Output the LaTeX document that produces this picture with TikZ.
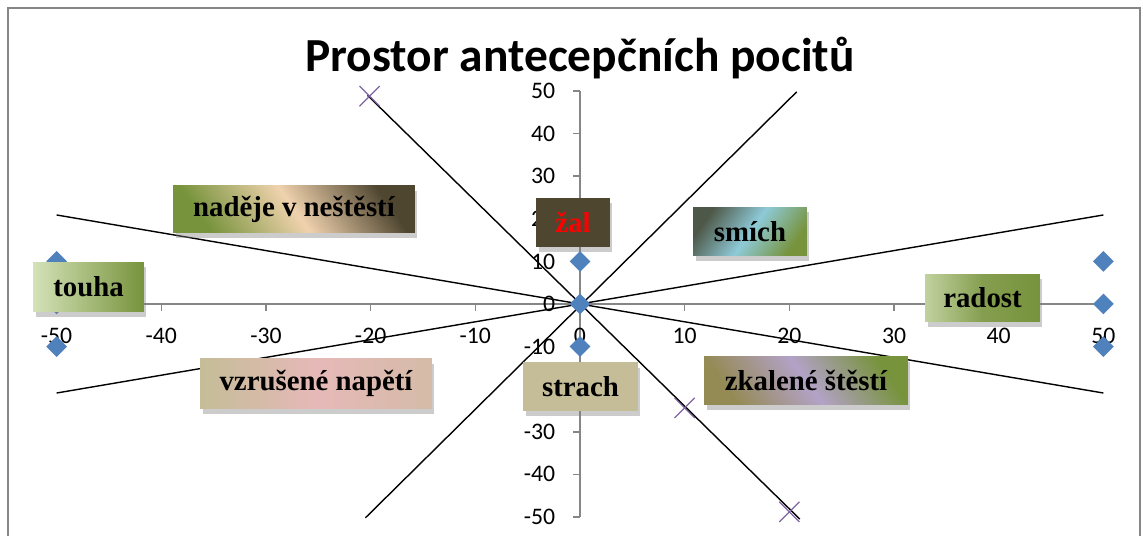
\documentclass[tikz,border=0pt]{standalone}
\usepackage{fontspec}
\setmainfont{Liberation Serif}
\newfontfamily\calibri{Carlito}
\usetikzlibrary{shapes.geometric,shapes.misc,shadows}
\definecolor{axisgray}{HTML}{868686}
\definecolor{ptblue}{HTML}{4F81BD}
\definecolor{xpurple}{HTML}{8064A2}
\definecolor{olivegr}{HTML}{77933C}
\definecolor{lightgr}{HTML}{D4E2B8}
\definecolor{peach}{HTML}{F0D2AE}
\definecolor{darkbr}{HTML}{4F4630}
\definecolor{khaki}{HTML}{C4BD97}
\definecolor{rosy}{HTML}{E6B9B8}
\definecolor{lavender}{HTML}{B3A2C7}
\definecolor{mudgr}{HTML}{948A54}
\definecolor{skyb}{HTML}{8ECAD8}
\definecolor{slate}{HTML}{4E5848}
\begin{document}
\begin{tikzpicture}[x=0.02cm,y=-0.02cm]
    \tikzstyle{pt}=[diamond,fill=ptblue,minimum size=0.42cm,inner sep=0pt]
    \tikzstyle{xm}=[cross out,draw=xpurple,line width=0.7pt,minimum size=0.38cm,inner sep=0pt]
    \tikzstyle{tick}=[font=\calibri\fontsize{13.5}{16}\selectfont,inner sep=0pt]
    \tikzstyle{trend}=[black,line width=0.8pt]
    \tikzstyle{box}=[font=\bfseries\fontsize{16.4}{19}\selectfont,inner sep=0pt,
      drop shadow={shadow xshift=0.05cm,shadow yshift=-0.11cm,opacity=0.4}]
    \useasboundingbox (0,0) rectangle (1143,536);
    \draw[axisgray,line width=1pt] (8,545) -- (8,8) -- (1140,8) -- (1140,545);
    \node[font=\calibri\bfseries\fontsize{27}{32}\selectfont,anchor=base] (title) at (580,72) {Prostor antecepčních pocitů};
    \begin{scope}[shift={(580,304)},x=0.2094cm,y=0.0852cm]
    % axes
    \draw[axisgray,line width=0.9pt] (-50,0) -- (50,0);
    \draw[axisgray,line width=0.9pt] (0,-50) -- (0,50);
    \foreach \v in {-50,-40,...,50}{
      \draw[axisgray,line width=0.9pt] (\v,0) -- (\v,-1.6);
      \draw[axisgray,line width=0.9pt] (0,\v) -- (-0.67,\v);
      \node[tick] (tx\v) at (\v,-7.6) {\v};
      \node[tick,anchor=east] (ty\v) at (-2.35,\v) {\v};
    }
    % lines
    \coordinate (a1) at (-20.3,49);
    \coordinate (a2) at (21,-50.5);
    \coordinate (b1) at (-20.5,-50.2);
    \coordinate (b2) at (20.7,49.8);
    \coordinate (c1) at (-50,20.9);
    \coordinate (c2) at (50,-20.9);
    \coordinate (d1) at (-50,-20.9);
    \coordinate (d2) at (50,20.9);
    \draw[trend] (a1) -- (a2);
    \draw[trend] (b1) -- (b2);
    \draw[trend] (c1) -- (c2);
    \draw[trend] (d1) -- (d2);
    % points
    \node[pt] (p1) at (-50,10) {};
    \node[pt] (p2) at (-50,0) {};
    \node[pt] (p3) at (-50,-10) {};
    \node[pt] (p4) at (0,10) {};
    \node[pt] (p5) at (0,0) {};
    \node[pt] (p6) at (0,-10) {};
    \node[pt] (p7) at (50,10) {};
    \node[pt] (p8) at (50,0) {};
    \node[pt] (p9) at (50,-10) {};
    \node[xm] (x1) at (-20.1,48.8) {};
    \node[xm] (x2) at (10,-24.4) {};
    \node[xm] (x3) at (20,-48.8) {};
    \end{scope}
    % labels
    \node[box,minimum width=4.84cm,minimum height=0.94cm,left color=olivegr,right color=darkbr,middle color=peach,shading angle=125] (nadeje) at (294,209.5) {naděje v neštěstí};
    \node[box,minimum width=2.22cm,minimum height=1cm,left color=lightgr,right color=olivegr] (touha) at (88.5,287) {touha};
    \node[box,minimum width=1.48cm,minimum height=0.98cm,fill=darkbr,text=red] (zal) at (573,222.5) {žal};
    \node[box,minimum width=2.28cm,minimum height=0.98cm,left color=slate,right color=olivegr,middle color=skyb,shading angle=55] (smich) at (750,231.5) {smích};
    \node[box,minimum width=2.3cm,minimum height=0.96cm,left color=lightgr!80!olivegr,right color=olivegr,middle color=olivegr!90!white] (radost) at (982.5,298) {radost};
    \node[box,minimum width=4.64cm,minimum height=1.02cm,left color=khaki,right color=khaki!50!rosy,middle color=rosy] (vzruseni) at (316,383.5) {vzrušené napětí};
    \node[box,minimum width=2.3cm,minimum height=0.98cm,fill=khaki] (strach) at (580.5,386.5) {strach};
    \node[box,minimum width=4.08cm,minimum height=0.98cm,left color=mudgr,right color=olivegr,middle color=lavender,shading angle=125] (zkalene) at (806,380.5) {zkalené štěstí};
  \end{tikzpicture}
\end{document}
